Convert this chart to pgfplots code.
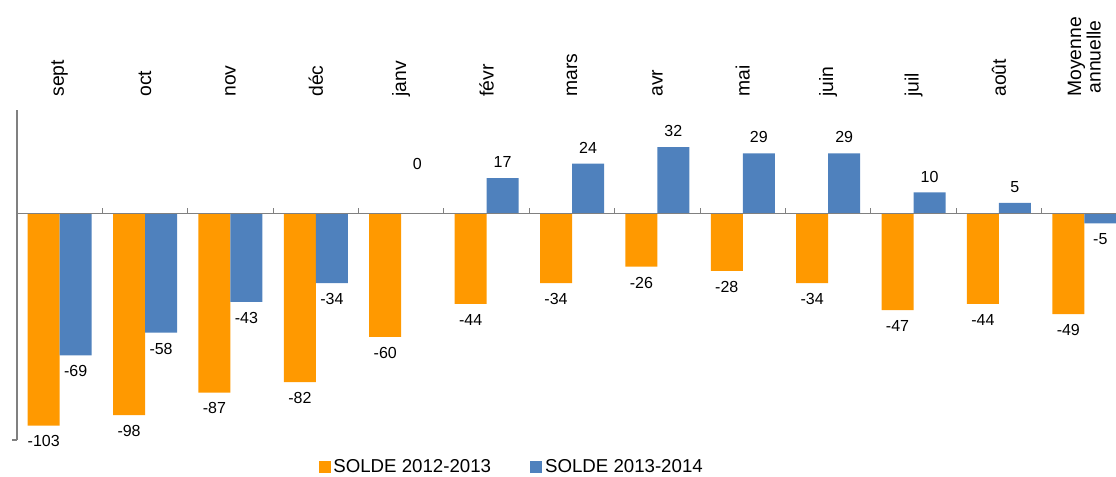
\documentclass[border=0pt]{standalone}
\usepackage{pgfplots}
\pgfplotsset{compat=1.18}
\usepackage{fontspec}
\setmainfont{Liberation Sans}
\definecolor{orng}{RGB}{255,153,0}
\definecolor{blu}{RGB}{79,129,189}
\definecolor{axgray}{RGB}{128,128,128}
\begin{document}
\begin{tikzpicture}
\begin{axis}[
  name=ax,
  width=832.5pt, height=247.5pt, scale only axis,
  ybar=0pt, bar width=24pt,
  xmin=-0.5, xmax=12.5, ymin=-110, ymax=50,
  axis y line*=left, axis x line*=top,
  x axis line style={draw=none},
  y axis line style={axgray, line width=0.8pt},
  xtick={0,...,12},
  xticklabels={sept,oct,nov,déc,janv,févr,mars,avr,mai,juin,juil,août,{Moyenne\\annuelle}},
  xtick style={draw=none},
  xticklabel style={rotate=90, anchor=west, align=center, font=\fontsize{14.5}{14.5}\selectfont},
  xticklabel shift=2.75pt,
  ytick={-110}, yticklabels={}, ytick style={axgray, line width=0.8pt},
  tick align=outside, major tick length=3.75pt,
  visualization depends on={rawy \as \rawy},
  nodes near coords={\pgfmathprintnumber[assume math mode=true]{\pgfplotspointmeta}},
  every node near coord/.append style={font=\fontsize{12}{13}\selectfont, inner sep=7.5pt, black,
    yshift={(\rawy==0)*25pt}},
  legend style={draw=none, legend columns=2, at={(0.446,-0.082)}, anchor=center,
    font=\fontsize{14}{14}\selectfont,
    /tikz/every even column/.append style={column sep=27.5pt}},
  legend image code/.code={\draw[#1, draw=none] (0pt,-4.5pt) rectangle (9pt,4.5pt);},
]
\addplot[fill=orng, draw=none] coordinates {(0,-103) (1,-98) (2,-87) (3,-82) (4,-60) (5,-44) (6,-34) (7,-26) (8,-28) (9,-34) (10,-47) (11,-44) (12,-49)};
\addplot[fill=blu, draw=none] coordinates {(0,-69) (1,-58) (2,-43) (3,-34) (4,0) (5,17) (6,24) (7,32) (8,29) (9,29) (10,10) (11,5) (12,-5)};
\legend{SOLDE 2012-2013, SOLDE 2013-2014}
\draw[axgray, line width=0.8pt] (axis cs:-0.5,0) -- (axis cs:12.5,0);
\pgfplotsinvokeforeach{0,...,11}{\draw[axgray, line width=0.8pt] (axis cs:#1.5,0) -- ([yshift=4pt]axis cs:#1.5,0);}
\end{axis}
\pgfresetboundingbox
\path[use as bounding box] ([xshift=-12.75pt,yshift=-27.75pt]ax.south west) rectangle ([xshift=-8.25pt,yshift=82.5pt]ax.north east);
\end{tikzpicture}
\end{document}
